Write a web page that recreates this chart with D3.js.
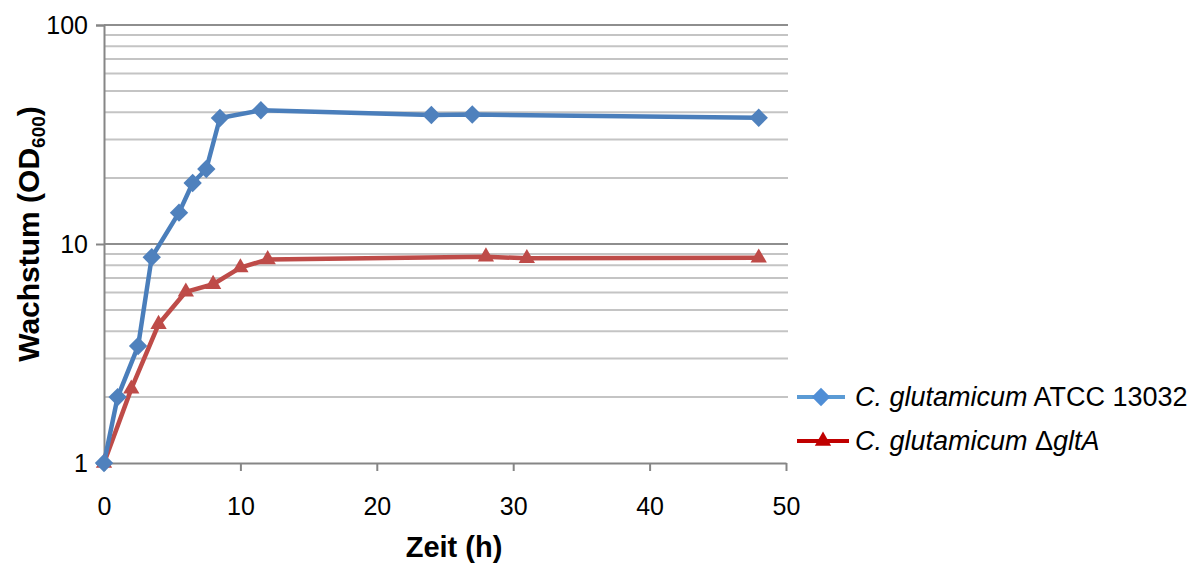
<!DOCTYPE html>
<html><head><meta charset="utf-8">
<script src="https://cdn.jsdelivr.net/npm/d3@7"></script>
<style>body{margin:0;background:#fff}svg{display:block;font-family:"Liberation Sans",Arial,sans-serif}</style>
</head><body>
<svg id="c" width="1194" height="563"></svg>
<script>
const wtTime = [0, 1, 2.5, 3.5, 5.5, 6.5, 7.5, 8.5, 11.5, 24, 27, 48];
const wtOD   = [1, 2.0, 3.42, 8.7, 13.9, 19.0, 22.0, 37.6, 40.8, 38.8, 39.0, 37.7];
const mutTime = [0, 2, 4, 6, 8, 10, 12, 28, 31, 48];
const mutOD   = [1, 2.18, 4.3, 6.05, 6.55, 7.8, 8.5, 8.75, 8.6, 8.65];
const xTicks = [0, 10, 20, 30, 40, 50];
const yTicks = [1, 10, 100];
const seriesNames = ["ATCC 13032", "gltA"];

const svg = d3.select("#c");
const L = 104, R = 786, T = 25, B = 463;
const x = d3.scaleLinear().domain([0, 50]).range([L, R]);
const y = d3.scaleLog().domain([1, 100]).range([B, T]);

// gridlines
const grid = [];
for (let d = 1; d <= 10; d *= 10) for (let k = 2; k <= 10; k++) grid.push(k * d);
svg.append("g").selectAll("line").data(grid).join("line")
  .attr("x1", L).attr("x2", R + 2)
  .attr("y1", d => y(d)).attr("y2", d => y(d))
  .attr("stroke", d => (d === 10 || d === 100) ? "#8e8e8e" : "#c4c4c4")
  .attr("stroke-width", 2);

// y axis
const ya = svg.append("g").attr("transform", `translate(${L},0)`)
  .call(d3.axisLeft(y).tickValues(yTicks).tickFormat(d3.format("d")).tickSize(8).tickPadding(8));
ya.select(".domain").attr("stroke", "#868686").attr("stroke-width", 2);
ya.selectAll(".tick line").attr("stroke", "#868686").attr("stroke-width", 2);
ya.selectAll(".tick text").attr("font-size", 25).attr("fill", "#000").attr("font-family", "Liberation Sans, Arial, sans-serif");

// x axis
const xa = svg.append("g").attr("transform", `translate(0,${B})`)
  .call(d3.axisBottom(x).tickValues(xTicks).tickSize(8).tickSizeOuter(0).tickPadding(26));
xa.select(".domain").attr("stroke", "#868686").attr("stroke-width", 2);
xa.selectAll(".tick line").attr("stroke", "#868686").attr("stroke-width", 2);
xa.selectAll(".tick text").attr("font-size", 25).attr("fill", "#000").attr("font-family", "Liberation Sans, Arial, sans-serif");

// titles
svg.append("text").attr("x", 454).attr("y", 557).attr("text-anchor", "middle")
  .attr("font-size", 29).attr("font-weight", "bold").text("Zeit (h)");
const yt = svg.append("text").attr("transform", "translate(39,234) rotate(-90)")
  .attr("text-anchor", "middle").attr("font-size", 30).attr("font-weight", "bold");
yt.append("tspan").text("Wachstum (OD");
yt.append("tspan").attr("font-size", 19).attr("dy", 6).text("600");
yt.append("tspan").attr("dy", -6).text(")");

const line = d3.line().x(d => x(d[0])).y(d => y(d[1]));
const wt = wtTime.map((t, i) => [t, wtOD[i]]);
const mut = mutTime.map((t, i) => [t, mutOD[i]]);

const blue = "#4a7ebb", red = "#be4b48";
svg.append("path").datum(mut).attr("d", line).attr("fill", "none").attr("stroke", red).attr("stroke-width", 4.5).attr("stroke-linejoin", "round");
svg.append("path").datum(wt).attr("d", line).attr("fill", "none").attr("stroke", blue).attr("stroke-width", 4.5).attr("stroke-linejoin", "round");

const diamond = d3.symbol().type(d3.symbolDiamond2).size(215);
const tri = d3.symbol().type(d3.symbolTriangle2).size(190);
svg.append("g").selectAll("path").data(mut).join("path")
  .attr("d", tri).attr("transform", d => `translate(${x(d[0])},${y(d[1])})`).attr("fill", red);
svg.append("g").selectAll("path").data(wt).join("path")
  .attr("d", diamond).attr("transform", d => `translate(${x(d[0])},${y(d[1])})`).attr("fill", "#4f81bd");

// legend
const lg = svg.append("g");
lg.append("line").attr("x1", 797).attr("x2", 845).attr("y1", 397).attr("y2", 397).attr("stroke", "#5b9bd5").attr("stroke-width", 4);
lg.append("path").attr("d", diamond).attr("transform", "translate(821,397)").attr("fill", "#4f8ed6");
const t1 = lg.append("text").attr("x", 855).attr("y", 406).attr("font-size", 27);
t1.append("tspan").attr("font-style", "italic").text("C. glutamicum");
t1.append("tspan").text(" " + seriesNames[0]);
lg.append("line").attr("x1", 797).attr("x2", 849).attr("y1", 441).attr("y2", 441).attr("stroke", "#c00000").attr("stroke-width", 4);
lg.append("path").attr("d", tri).attr("transform", "translate(823,441)").attr("fill", "#c00000");
const t2 = lg.append("text").attr("x", 855).attr("y", 450).attr("font-size", 27);
t2.append("tspan").attr("font-style", "italic").text("C. glutamicum");
t2.append("tspan").text(" \u0394");
t2.append("tspan").attr("font-style", "italic").text(seriesNames[1]);
</script>
</body></html>
